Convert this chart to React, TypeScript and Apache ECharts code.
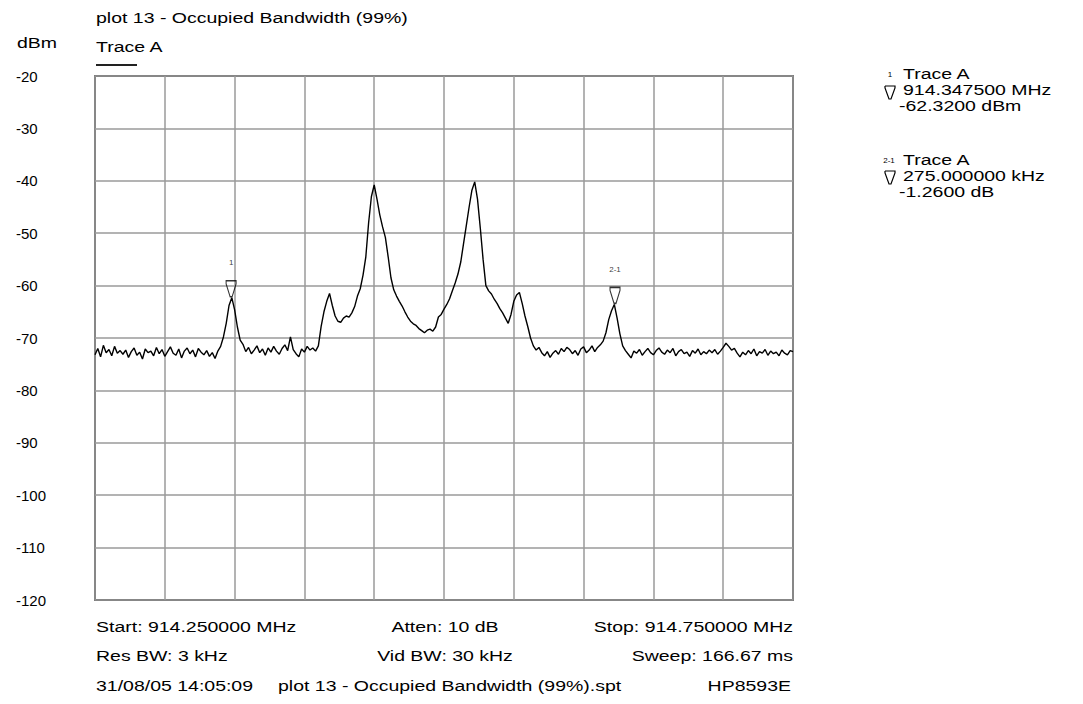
import React, { useEffect, useRef } from "react";
import * as echarts from "echarts";

// Sweep: 914.250000 MHz .. 914.750000 MHz, trace points every 2 kHz
const START_MHZ = 914.25;
const STEP_KHZ = 2;

const traceA: number[] = [
  -73.2, -72.0, -73.6, -71.4, -72.8, -72.2, -73.4, -71.6, -72.9, -72.4,
  -73.1, -72.3, -73.7, -72.6, -71.9, -73.3, -72.7, -74.0, -72.1, -72.8,
  -72.5, -73.4, -71.8, -73.0, -72.2, -73.5, -72.6, -71.7, -72.9, -73.3,
  -72.1, -73.8, -72.5, -71.9, -73.0, -72.3, -73.6, -72.0, -72.7, -73.2,
  -72.4, -73.5, -72.8, -73.9, -72.5, -71.6, -69.8, -67.2, -63.8, -62.3,
  -64.6, -67.9, -70.4, -71.2, -72.6, -71.8, -73.0, -72.3, -71.5, -72.8,
  -72.1, -73.3, -71.9, -72.7, -71.6, -72.5, -73.1, -72.0, -71.3, -72.4,
  -69.8, -72.2, -73.0, -73.6, -72.1, -72.7, -71.6, -72.3, -71.9, -72.5,
  -71.5, -67.8, -65.0, -63.0, -61.5, -63.8, -65.8, -66.8, -67.0, -66.2,
  -65.8, -66.0, -65.2, -64.0, -62.0, -60.6, -58.0, -54.5, -48.0, -43.0,
  -40.8, -43.5, -46.5, -48.8, -50.8, -54.5, -58.5, -60.8, -62.0, -63.0,
  -63.9, -65.0, -66.0, -66.8, -67.3, -67.6, -68.2, -68.6, -69.0, -68.5,
  -68.3, -68.7, -67.9, -66.0, -65.5, -64.5, -63.6, -62.5, -61.0, -59.5,
  -57.8, -55.5, -52.0, -48.5, -45.0, -41.8, -40.2, -43.5, -49.0, -55.0,
  -60.0, -61.0, -61.6, -62.6, -63.4, -64.4, -65.2, -66.2, -67.2, -65.5,
  -63.0, -61.8, -61.3, -63.4, -65.8, -67.8, -70.0, -71.5, -72.3, -71.8,
  -72.8, -73.4, -72.6, -73.7, -72.9, -72.4, -73.1, -72.0, -72.6, -71.8,
  -72.2, -73.0, -72.4, -73.3, -72.1, -71.7, -72.8, -72.3, -71.5, -72.6,
  -71.8, -71.3, -70.6, -69.0, -66.5, -64.8, -63.6, -66.2, -69.2, -71.5,
  -72.4, -73.1, -73.8, -72.5, -72.9, -72.2, -73.3, -72.6, -72.0, -72.8,
  -73.2, -72.4, -71.9, -72.7, -73.1, -72.3, -72.8, -72.0, -73.4, -72.6,
  -72.2, -73.0, -72.7, -73.5, -72.4, -72.9, -72.1, -73.2, -72.6, -73.0,
  -72.3, -72.8, -72.2, -73.1, -72.5, -71.8, -71.0, -71.6, -72.3, -72.0,
  -72.9, -73.6, -72.7, -73.2, -72.4, -73.0, -72.1, -73.4, -72.6, -72.9,
  -72.2, -73.3, -72.5, -73.0, -72.7, -73.4, -72.3, -72.9, -73.2, -72.4,
  -72.6,
];

// Markers (offset from start in kHz, level in dBm)
const markerNames = ["1", "2-1"];
const markerFreqKHz = [97.5, 372.5];
const markerLevels = [-62.32, -63.58];

const yMin = -120;
const yMax = -20;
const yStep = 10;
const xSpanKHz = 500;
const xStepKHz = 50;

const FONT = '"Liberation Sans", Arial, sans-serif';
const FS = 15;
const SX = 1.3;

function txt(text: string, x: number, y: number, align = "left", size = FS, sx = SX) {
  return {
    type: "text",
    x,
    y,
    scaleX: sx,
    silent: true,
    style: {
      text,
      x: 0,
      y: 0,
      fill: "#000",
      font: `${size}px ${FONT}`,
      textAlign: align,
      textVerticalAlign: "middle",
    },
  };
}

function funnel(cx: number, top: number) {
  return {
    type: "polyline",
    silent: true,
    shape: {
      points: [
        [cx - 5, top],
        [cx + 5, top],
        [cx + 5, top + 2],
        [cx + 1, top + 13],
        [cx - 1, top + 13],
        [cx - 5, top + 2],
        [cx - 5, top],
      ],
    },
    style: { stroke: "#000", lineWidth: 1.2, fill: "none" },
  };
}

export default function App() {
  const ref = useRef<HTMLDivElement>(null);
  useEffect(() => {
    document.body.style.margin = "0";
    const chart = echarts.init(ref.current!, undefined, { renderer: "svg" });
    const lineData = traceA.map((v, i) => [i * STEP_KHZ, v]);
    const markerData = markerNames.map((n, i) => ({
      name: n,
      value: [markerFreqKHz[i], markerLevels[i]],
    }));
    chart.setOption({
      animation: false,
      backgroundColor: "#fff",
      grid: {
        left: 95,
        top: 76,
        width: 698,
        height: 524,
        show: true,
        borderColor: "#1a1a1a",
        borderWidth: 1.5,
        backgroundColor: "transparent",
      },
      xAxis: {
        type: "value",
        min: 0,
        max: xSpanKHz,
        interval: xStepKHz,
        axisLine: { show: false },
        axisTick: { show: false },
        axisLabel: { show: false },
        splitLine: { show: true, lineStyle: { color: "#9a9a9a", width: 1.5 } },
      },
      yAxis: {
        type: "value",
        min: yMin,
        max: yMax,
        interval: yStep,
        axisLine: { show: false },
        axisTick: { show: false },
        axisLabel: {
          show: true,
          align: "left",
          margin: 79,
          color: "#000",
          fontSize: 15,
          fontFamily: FONT,
        },
        splitLine: { show: true, lineStyle: { color: "#9a9a9a", width: 1.5 } },
      },
      series: [
        {
          type: "line",
          data: lineData,
          symbol: "none",
          lineStyle: { color: "#000", width: 1.4 },
          z: 3,
        },
        {
          type: "scatter",
          data: markerData,
          symbol: "path://M0,0L10,0L10,3L6,16L4,16L0,3Z",
          symbolSize: [10, 16],
          symbolOffset: [0, -9],
          itemStyle: { color: "none", borderColor: "#000", borderWidth: 1.3 },
          label: {
            show: true,
            position: "top",
            distance: 11,
            formatter: (p: any) => p.name,
            fontSize: 8,
            color: "#000",
            fontFamily: FONT,
          },
          z: 4,
        },
      ],
      graphic: [
        txt("plot 13 - Occupied Bandwidth (99%)", 96, 18),
        txt("dBm", 17, 43),
        txt("Trace A", 96, 47),
        {
          type: "line",
          silent: true,
          shape: { x1: 96, y1: 65, x2: 137, y2: 65 },
          style: { stroke: "#222", lineWidth: 2 },
        },
        txt("Start: 914.250000 MHz", 96, 627),
        txt("Atten: 10 dB", 445, 627, "center"),
        txt("Stop: 914.750000 MHz", 793, 627, "right"),
        txt("Res BW: 3 kHz", 96, 656),
        txt("Vid BW: 30 kHz", 445, 656, "center"),
        txt("Sweep: 166.67 ms", 793, 656, "right"),
        txt("31/08/05 14:05:09", 96, 686),
        txt("plot 13 - Occupied Bandwidth (99%).spt", 278, 686),
        txt("HP8593E", 791, 686, "right"),
        // marker legend
        txt("1", 890, 74, "center", 8, 1),
        funnel(890, 86),
        txt("Trace A", 903, 74),
        txt("914.347500 MHz", 903, 90),
        txt("-62.3200 dBm", 899, 106),
        txt("2-1", 889, 160, "center", 8, 1),
        funnel(890, 171),
        txt("Trace A", 903, 160),
        txt("275.000000 kHz", 903, 176),
        txt("-1.2600 dB", 899, 192),
      ],
    });
    return () => chart.dispose();
  }, []);
  return (
    <div
      ref={ref}
      style={{ position: "fixed", left: 0, top: 0, width: 1083, height: 704 }}
    />
  );
}
